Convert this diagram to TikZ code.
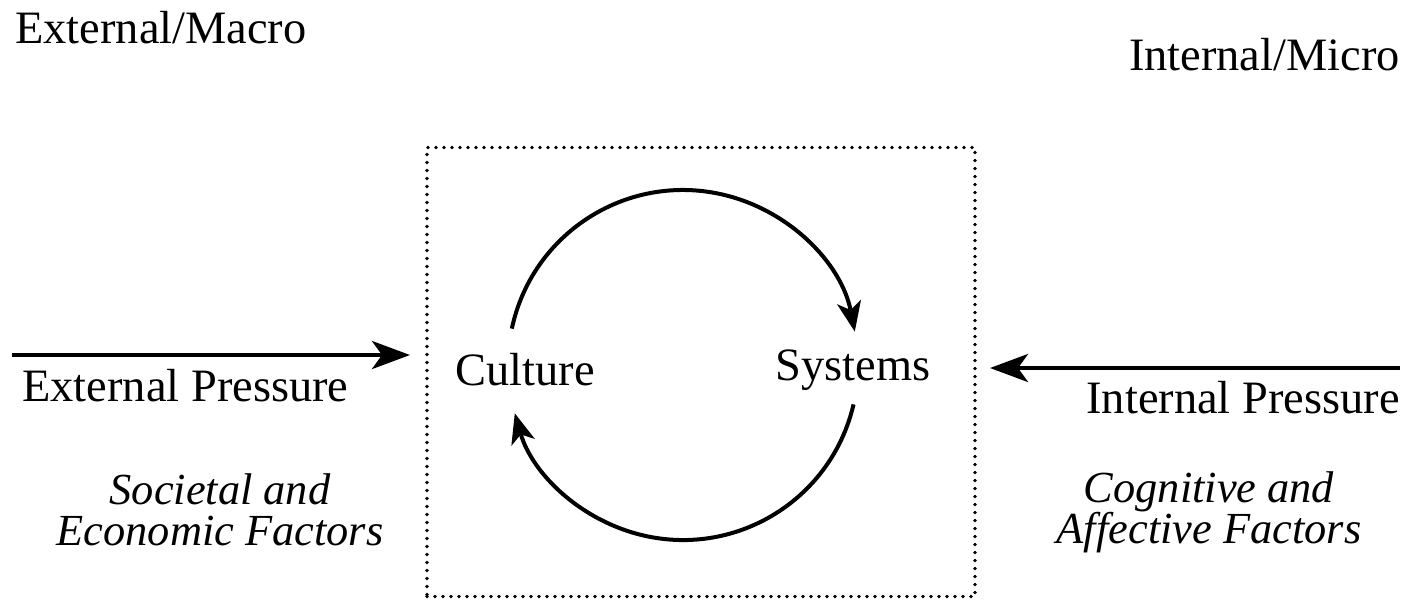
\documentclass[tikz,border=0pt]{standalone}
\usepackage{fontspec}
\setmainfont{Liberation Serif}
\usetikzlibrary{arrows.meta}
\begin{document}
\begin{tikzpicture}[x=0.5pt,y=-0.5pt,
  lbl/.style={inner sep=0pt,font=\fontsize{23.2}{28}\selectfont},
  ilbl/.style={inner sep=0pt,align=center,font=\fontsize{22.2}{20.5}\selectfont\itshape},
  bigarrow/.style={line width=2.2pt,-{Stealth[length=19pt,width=14pt,inset=5pt]}},
  looparrow/.style={line width=2pt,-{Stealth[length=15pt,width=12pt,inset=4pt]}},
  framebox/.style={draw,line width=1.8pt,line cap=round,dash pattern=on 0pt off 4pt,minimum width=274pt,minimum height=224.5pt,inner sep=0pt}]
\useasboundingbox (0,0) rectangle (1417,602);
\node[framebox] (box) at (701,372) {};
\node[lbl,anchor=west] (ext) at (15,28) {External/Macro};
\node[lbl,anchor=east] (int) at (1400,55) {Internal/Micro};
\node[lbl] (cult) at (525,370) {Culture};
\node[lbl] (sys) at (853,370) {Systems};
\node[lbl,anchor=west] (extp) at (22,386) {External Pressure};
\node[lbl,anchor=east] (intp) at (1400,398) {Internal Pressure};
\node[ilbl] (soc) at (220,510) {Societal and\\Economic Factors};
\node[ilbl] (cog) at (1209,512) {Cognitive and\\Affective Factors};
\coordinate (c) at (683,365);
\coordinate (ea) at (12,355);
\coordinate (eb) at (410,355);
\coordinate (ia) at (1400,368);
\coordinate (ib) at (990,368);
\draw[bigarrow] (ea) -- (eb);
\draw[bigarrow] (ia) -- (ib);
\draw[looparrow] (c) ++(168:87.5pt) arc[start angle=168,end angle=11,radius=87.5pt];
\draw[looparrow] (c) ++(-13:87.5pt) arc[start angle=-13,end angle=-164,radius=87.5pt];
\end{tikzpicture}
\end{document}
